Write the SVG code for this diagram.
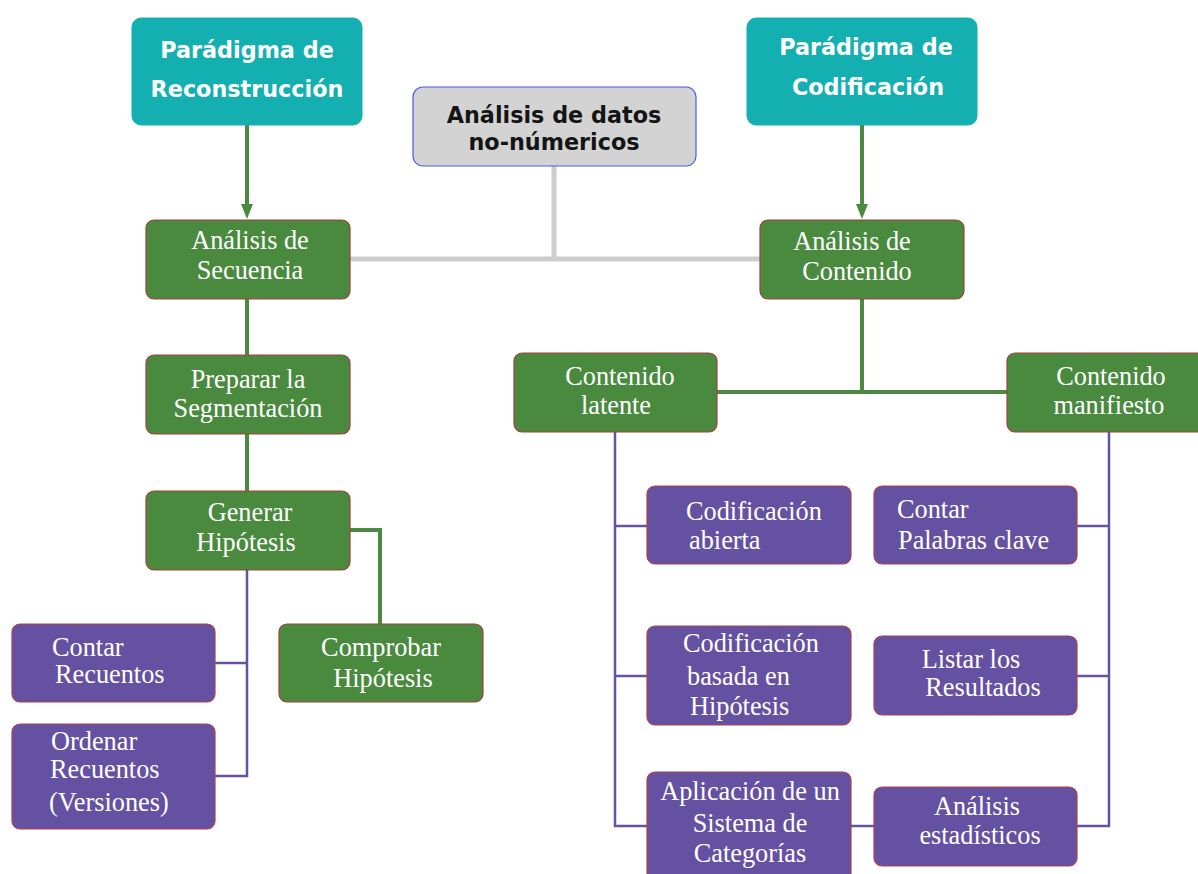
<svg xmlns="http://www.w3.org/2000/svg" width="1198" height="874" viewBox="0 0 1198 874">
  <style>
    .teal { fill: #14afb0; stroke: #14afb0; stroke-width: 1; }
    .gray { fill: #d3d3d3; stroke: #4a5ce0; stroke-width: 1.2; }
    .green { fill: #4a8a3f; stroke: #a3403d; stroke-width: 1.2; }
    .purple { fill: #6551a2; stroke: #b0404a; stroke-width: 1.2; }
    .hd { font-family: "DejaVu Sans", Verdana, sans-serif; font-weight: bold; font-size: 22.3px; fill: #ffffff; text-anchor: middle; }
    .hd.dark { fill: #141414; }
    .sr { font-family: "Liberation Serif", "Times New Roman", serif; font-size: 26.3px; fill: #ffffff; text-anchor: middle; }
    .sr.l { text-anchor: start; }
    .lg { fill: none; stroke: #4d8a41; stroke-width: 4; }
    .lp { fill: none; stroke: #6652a3; stroke-width: 2.5; }
    .lgr { fill: none; stroke: #cdcdcd; stroke-width: 5; }
    .ah { fill: #4d8a41; }
  </style>
  <rect width="1198" height="874" fill="#ffffff"/>

  <!-- connectors -->
  <g id="connectors">
    <!-- grey root link -->
    <path class="lgr" d="M554,166 V259"/>
    <path class="lgr" d="M350,259 H760"/>
    <!-- paradigm arrows -->
    <line class="lg" x1="247" y1="125" x2="247" y2="205"/>
    <path class="ah" d="M241,204 L253,204 L247,219 Z"/>
    <line class="lg" x1="862" y1="125" x2="862" y2="205"/>
    <path class="ah" d="M856,204 L868,204 L862,219 Z"/>
    <!-- sequence chain -->
    <path class="lg" d="M247,299 V355"/>
    <path class="lg" d="M247,434 V491"/>
    <path class="lg" d="M350,530 H380 V624"/>
    <!-- generar children -->
    <path class="lp" d="M247,570 V776 H215"/>
    <path class="lp" d="M247,663 H215"/>
    <!-- contenido split -->
    <path class="lg" d="M862,299 V392"/>
    <path class="lg" d="M717,392 H1007"/>
    <!-- latente children -->
    <path class="lp" d="M615,432 V826 H647"/>
    <path class="lp" d="M615,526 H647"/>
    <path class="lp" d="M615,676 H647"/>
    <!-- manifiesto children -->
    <path class="lp" d="M1109,432 V826 H1077"/>
    <path class="lp" d="M1109,526 H1077"/>
    <path class="lp" d="M1109,676 H1077"/>
    <path class="lp" d="M851,826 H874"/>
  </g>

  <g id="paradigma-reconstruccion">
    <rect class="teal" x="132" y="18" width="230" height="107" rx="9"/>
    <text class="hd" x="247" y="58">Parádigma de</text>
    <text class="hd" x="247" y="97">Reconstrucción</text>
  </g>

  <g id="paradigma-codificacion">
    <rect class="teal" x="747" y="18" width="230" height="107" rx="9"/>
    <text class="hd" x="866" y="55">Parádigma de</text>
    <text class="hd" x="868" y="95">Codificación</text>
  </g>

  <g id="analisis-datos">
    <rect class="gray" x="413" y="87" width="283" height="79" rx="10"/>
    <text class="hd dark" x="554" y="123">Análisis de datos</text>
    <text class="hd dark" x="554" y="150">no-númericos</text>
  </g>

  <g id="analisis-secuencia">
    <rect class="green" x="146" y="220" width="204" height="79" rx="8"/>
    <text class="sr" x="250" y="249">Análisis de</text>
    <text class="sr" x="250" y="279">Secuencia</text>
  </g>

  <g id="analisis-contenido">
    <rect class="green" x="760" y="220" width="204" height="79" rx="8"/>
    <text class="sr" x="852" y="250">Análisis de</text>
    <text class="sr" x="857" y="280">Contenido</text>
  </g>

  <g id="preparar-segmentacion">
    <rect class="green" x="146" y="355" width="204" height="79" rx="8"/>
    <text class="sr" x="248" y="388">Preparar la</text>
    <text class="sr" x="248" y="417">Segmentación</text>
  </g>

  <g id="generar-hipotesis">
    <rect class="green" x="146" y="491" width="204" height="79" rx="8"/>
    <text class="sr" x="250" y="521">Generar</text>
    <text class="sr" x="246" y="551">Hipótesis</text>
  </g>

  <g id="comprobar-hipotesis">
    <rect class="green" x="279" y="624" width="204" height="78" rx="8"/>
    <text class="sr" x="381" y="656">Comprobar</text>
    <text class="sr" x="383" y="687">Hipótesis</text>
  </g>

  <g id="contar-recuentos">
    <rect class="purple" x="12" y="624" width="203" height="78" rx="8"/>
    <text class="sr l" x="52" y="656">Contar</text>
    <text class="sr l" x="55" y="683">Recuentos</text>
  </g>

  <g id="ordenar-recuentos">
    <rect class="purple" x="12" y="724" width="203" height="105" rx="8"/>
    <text class="sr l" x="51" y="750">Ordenar</text>
    <text class="sr l" x="50" y="778">Recuentos</text>
    <text class="sr l" x="49" y="811">(Versiones)</text>
  </g>

  <g id="contenido-latente">
    <rect class="green" x="514" y="353" width="203" height="79" rx="8"/>
    <text class="sr" x="620" y="385">Contenido</text>
    <text class="sr" x="616" y="414">latente</text>
  </g>

  <g id="contenido-manifiesto">
    <rect class="green" x="1007" y="353" width="200" height="79" rx="8"/>
    <text class="sr" x="1111" y="385">Contenido</text>
    <text class="sr" x="1109" y="414">manifiesto</text>
  </g>

  <g id="codificacion-abierta">
    <rect class="purple" x="647" y="486" width="204" height="78" rx="8"/>
    <text class="sr l" x="686" y="520">Codificación</text>
    <text class="sr l" x="689" y="549">abierta</text>
  </g>

  <g id="codificacion-hipotesis">
    <rect class="purple" x="647" y="626" width="204" height="99" rx="8"/>
    <text class="sr l" x="683" y="652">Codificación</text>
    <text class="sr l" x="687" y="685">basada en</text>
    <text class="sr l" x="690" y="715">Hipótesis</text>
  </g>

  <g id="sistema-categorias">
    <rect class="purple" x="647" y="772" width="204" height="110" rx="8"/>
    <text class="sr" x="750" y="800">Aplicación de un</text>
    <text class="sr" x="750" y="832">Sistema de</text>
    <text class="sr" x="750" y="862">Categorías</text>
  </g>

  <g id="contar-palabras">
    <rect class="purple" x="874" y="486" width="203" height="78" rx="8"/>
    <text class="sr l" x="897" y="518">Contar</text>
    <text class="sr l" x="898" y="549">Palabras clave</text>
  </g>

  <g id="listar-resultados">
    <rect class="purple" x="874" y="636" width="203" height="79" rx="8"/>
    <text class="sr" x="971" y="668">Listar los</text>
    <text class="sr" x="983" y="696">Resultados</text>
  </g>

  <g id="analisis-estadisticos">
    <rect class="purple" x="874" y="787" width="203" height="79" rx="8"/>
    <text class="sr" x="977" y="815">Análisis</text>
    <text class="sr" x="980" y="844">estadísticos</text>
  </g>
</svg>
